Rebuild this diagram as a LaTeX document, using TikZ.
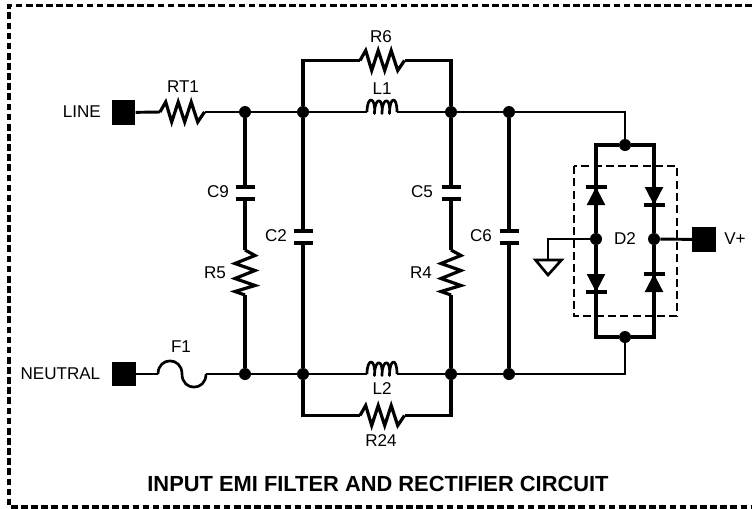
\documentclass[tikz,border=0pt]{standalone}
\usepackage{fontspec}
\setmainfont{Liberation Sans}
\newcommand\ZigH[1]{\draw[wire] (#1) -- ++(5.7,-10) -- ++(6,20) -- ++(6.5,-20) -- ++(6.5,20) -- ++(6.5,-20) -- ++(6.5,20) -- ++(6.8,-10);}
\newcommand\ZigV[1]{\draw[wire] (#1) -- ++(10,5.5) -- ++(-20,8) -- ++(20,7) -- ++(-20,8) -- ++(20,7) -- ++(-20,6) -- ++(10,3.5);}
\newcommand\Coil[1]{\draw[thin wire] (#1) .. controls ++(0,-17) and ++(1.5,-17) .. ++(7.5,1.5) .. controls ++(0,-17) and ++(1.5,-17) .. ++(7.5,0) .. controls ++(0,-17) and ++(1.5,-17) .. ++(7.5,0) .. controls ++(0,-17) and ++(0,-17) .. ++(7.5,-1.5);}
\tikzset{
  wire/.style={line width=2.4pt,line join=miter,line cap=butt},
  hwire/.style={line width=2.2pt,line join=miter,line cap=butt},
  thin wire/.style={line width=2pt,line join=round},
  dot/.style={circle,fill=black,inner sep=0pt,minimum size=9pt},
  term/.style={rectangle,fill=black,inner sep=0pt,minimum width=17.6pt,minimum height=18.6pt},
  lab/.style={inner sep=0pt,font=\fontsize{12.8pt}{14pt}\selectfont},
  plate/.style={line width=2.3pt},
  diode/.style={fill=black,draw=none},
  frame/.style={line width=2.4pt,dash pattern=on 5pt off 2.6pt},
  box/.style={line width=1.6pt,dash pattern=on 6pt off 3.2pt},
}
\begin{document}
\begin{tikzpicture}[x=0.75pt,y=-0.75pt]
\useasboundingbox (0,0) rectangle (752,508);
% frame
\draw[frame] (752,5.5) -- (9,5.5) -- (9,507) -- (752,507);
% terminals
\node[term] (line) at (123.7,112.5) {};
\node[term] (neutral) at (124,374) {};
\node[term] (vp) at (704,239.5) {};
% junctions
\node[dot] (a1) at (245,112) {};
\node[dot] (a2) at (303,112) {};
\node[dot] (a3) at (451,112) {};
\node[dot] (a4) at (509,112) {};
\node[dot] (b1) at (245,374) {};
\node[dot] (b2) at (303,374) {};
\node[dot] (b3) at (451,374) {};
\node[dot] (b4) at (509,374) {};
\node[dot] (dt) at (625,145) {};
\node[dot] (db) at (625,337) {};
\node[dot] (dl) at (596,239) {};
\node[dot] (dr) at (654,239) {};
% component end coordinates
\coordinate (rt1a) at (160,112); \coordinate (rt1b) at (205,112);
\coordinate (f1a) at (158,374);  \coordinate (f1b) at (206,374);
\coordinate (l1a) at (367,112);  \coordinate (l1b) at (397,112);
\coordinate (l2a) at (367,374);  \coordinate (l2b) at (397,374);
\coordinate (r6a) at (360,60.5); \coordinate (r6b) at (405,60.5);
\coordinate (r24a) at (360,415.5); \coordinate (r24b) at (405,415.5);
\coordinate (tl) at (303,60.5);  \coordinate (tr) at (451,60.5);
\coordinate (bl) at (303,415.5); \coordinate (br) at (451,415.5);
\coordinate (c9t) at (245,187);  \coordinate (c9b) at (245,199);
\coordinate (c5t) at (451,187);  \coordinate (c5b) at (451,199);
\coordinate (c2t) at (303,231);  \coordinate (c2b) at (303,243);
\coordinate (c6t) at (509,231);  \coordinate (c6b) at (509,243);
\coordinate (r5t) at (245,250);  \coordinate (r5b) at (245,295);
\coordinate (r4t) at (451,250);  \coordinate (r4b) at (451,295);
\coordinate (inT) at (625,112);  \coordinate (inB) at (625,374);
\coordinate (lt) at (596,145);   \coordinate (rt) at (654,145);
\coordinate (lb) at (596,337);   \coordinate (rb) at (654,337);
\coordinate (gc) at (548,239);   \coordinate (gt) at (548,260);
\coordinate (gl) at (535.5,260); \coordinate (gr) at (561.5,260);
\coordinate (gtip) at (548,275);
% dashed box
\draw[box] (574,166) rectangle (677,316);
% horizontal wires
\draw[hwire] (line) -- (rt1a);
\draw[hwire] (rt1b) -- (a1) -- (a2) -- (l1a);
\draw[hwire] (l1b) -- (a3) -- (a4);
\draw[hwire] (a4) -- (inT) -- (dt);
\draw[hwire] (neutral) -- (f1a);
\draw[hwire] (f1b) -- (b1) -- (b2) -- (l2a);
\draw[hwire] (l2b) -- (b3) -- (b4);
\draw[hwire] (b4) -- (inB) -- (db);
\draw[wire] (a2) -- (tl) -- (r6a);
\draw[wire] (r6b) -- (tr) -- (a3);
\draw[wire] (b2) -- (bl) -- (r24a);
\draw[wire] (r24b) -- (br) -- (b3);
% vertical branches
\draw[wire] (a1) -- (c9t); \draw[wire] (c9b) -- (r5t); \draw[wire] (r5b) -- (b1);
\draw[wire] (a3) -- (c5t); \draw[wire] (c5b) -- (r4t); \draw[wire] (r4b) -- (b3);
\draw[wire] (a2) -- (c2t); \draw[wire] (c2b) -- (b2);
\draw[wire] (a4) -- (c6t); \draw[wire] (c6b) -- (b4);
% capacitor plates
\foreach \c in {c9t,c9b,c5t,c5b,c2t,c2b,c6t,c6b}
  \draw[plate] (\c) ++(-9.5,0) -- ++(19,0);
% resistors
\ZigH{rt1a} \ZigH{r6a} \ZigH{r24a}
\ZigV{r5t} \ZigV{r4t}
% inductors
\Coil{l1a} \Coil{l2a}
% fuse
\draw[thin wire] (f1a) .. controls ++(0,-17.5) and ++(0,-17.5) .. ++(24,0) .. controls ++(0,17.5) and ++(0,17.5) .. (f1b);
% bridge
\draw[wire] (dt) -- (lt) -- (dl);
\draw[wire] (dl) -- (lb) -- (db);
\draw[wire] (dt) -- (rt) -- (dr);
\draw[wire] (dr) -- (rb) -- (db);
\draw[hwire] (vp) -- (dr);
\draw[hwire] (dl) -- (gc) -- (gt);
\draw[line width=2pt,fill=white,line join=miter] (gl) -- (gr) -- (gtip) -- cycle;
% diodes
\fill[diode] (596,187) -- (605.3,205) -- (586.7,205) -- cycle;
\draw[plate] (585.5,187) -- (606.5,187);
\fill[diode] (596,292) -- (605.3,274) -- (586.7,274) -- cycle;
\draw[plate] (585.5,292) -- (606.5,292);
\fill[diode] (654,205) -- (663.3,187) -- (644.7,187) -- cycle;
\draw[plate] (643.5,205) -- (664.5,205);
\fill[diode] (654,274) -- (663.3,292) -- (644.7,292) -- cycle;
\draw[plate] (643.5,274) -- (664.5,274);
% labels
\node[lab,anchor=east] at (101,112) {LINE};
\node[lab,anchor=east] at (100.5,374) {NEUTRAL};
\node[lab] at (183,87) {RT1};
\node[lab] at (181,346.5) {F1};
\node[lab] at (381,37) {R6};
\node[lab] at (382,89) {L1};
\node[lab] at (382,389) {L2};
\node[lab] at (381,441) {R24};
\node[lab] at (218,192) {C9};
\node[lab] at (276,236) {C2};
\node[lab] at (422,192) {C5};
\node[lab] at (481,236) {C6};
\node[lab] at (215,273) {R5};
\node[lab] at (421,273) {R4};
\node[lab] at (625,239) {D2};
\node[lab,anchor=west] at (724,239) {V+};
\node[inner sep=0pt,font=\fontsize{16.4pt}{18pt}\selectfont\bfseries] at (378,484) {INPUT EMI FILTER AND RECTIFIER CIRCUIT};
\end{tikzpicture}
\end{document}
